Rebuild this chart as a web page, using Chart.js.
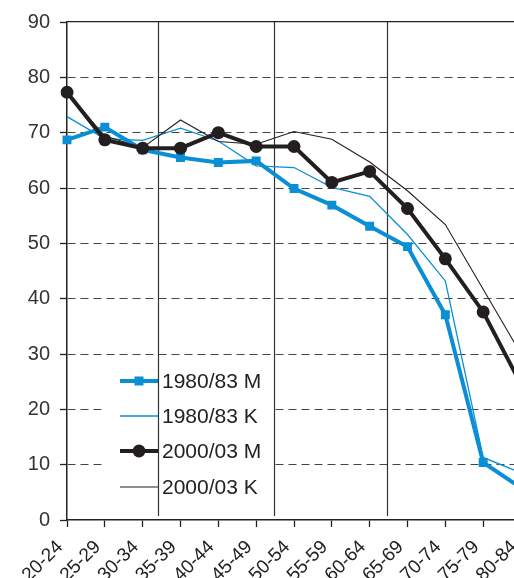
<!DOCTYPE html>
<html>
<head>
<meta charset="utf-8">
<script src="https://cdn.jsdelivr.net/npm/chart.js@4.4.1/dist/chart.umd.min.js"></script>
<style>
  html, body { margin: 0; padding: 0; background: #fff; overflow: hidden; }
  #wrap { position: absolute; left: 0; top: 0; width: 560px; height: 578px; }
</style>
</head>
<body>
<div id="wrap"><canvas id="myChart" width="560" height="578"></canvas></div>
<script>
// age groups (last one runs off the right edge like in the scan)
var ikagrupp = ['20-24', '25-29', '30-34', '35-39', '40-44', '45-49', '50-54',
                '55-59', '60-64', '65-69', '70-74', '75-79', '80-84'];

var m1980 = [68.7, 71.0, 66.9, 65.5, 64.6, 64.9, 59.9, 56.9, 53.1, 49.4, 37.1, 10.4, 5.8];
var k1980 = [72.9, 68.9, 68.6, 70.8, 68.5, 64.0, 63.7, 60.1, 58.5, 51.6, 43.2, 11.3, 8.5];
var m2000 = [77.3, 68.7, 67.2, 67.2, 70.0, 67.5, 67.5, 61.0, 63.0, 56.3, 47.2, 37.6, 24.5];
var k2000 = [77.0, 69.4, 67.3, 72.3, 68.4, 67.9, 70.2, 68.8, 64.7, 59.5, 53.4, 41.7, 30.0];

var yTicks = [0, 10, 20, 30, 40, 50, 60, 70, 80, 90];

// vertical separator lines, in category units
var separators = [2.41, 5.47, 8.46];

var BLUE = '#0a8fd6';
var BLACK = '#231f20';
var FONT = 'Liberation Sans, Arial, sans-serif';

// legend inside plot + separator lines
var overlay = {
    id: 'overlay',
    beforeDatasetsDraw: function (chart) {
        var ctx = chart.ctx;
        var x = chart.scales.x;
        var area = chart.chartArea;
        ctx.save();
        // legend
        ctx.fillStyle = '#fff';
        ctx.fillRect(106, 362, 166, 140);
        var rows = [381, 416, 451, 487];
        chart.data.datasets.forEach(function (ds, i) {
            var y = rows[i];
            ctx.strokeStyle = ds.borderColor;
            ctx.lineWidth = ds.borderWidth;
            ctx.beginPath();
            ctx.moveTo(120, y);
            ctx.lineTo(158, y);
            ctx.stroke();
            if (ds.pointRadius > 0) {
                ctx.fillStyle = ds.backgroundColor;
                if (ds.pointStyle === 'rect') {
                    ctx.fillRect(139 - 4.5, y - 4.5, 9, 9);
                } else {
                    ctx.beginPath();
                    ctx.arc(139, y, ds.pointRadius, 0, Math.PI * 2);
                    ctx.fill();
                }
            }
            ctx.fillStyle = '#222';
            ctx.font = '21px ' + FONT;
            ctx.textBaseline = 'middle';
            ctx.textAlign = 'left';
            ctx.fillText(ds.label, 162, y + 1);
        });
        // separators
        ctx.strokeStyle = '#333';
        ctx.lineWidth = 1.2;
        separators.forEach(function (v) {
            var px = Math.round(x.getPixelForValue(v)) + 0.5;
            ctx.beginPath();
            ctx.moveTo(px, area.top);
            ctx.lineTo(px, area.bottom - 4);
            ctx.stroke();
        });
        ctx.restore();
    }
};

var ctx1 = document.getElementById('myChart').getContext('2d');
var myChart = new Chart(ctx1, {
    type: 'line',
    data: {
        labels: ikagrupp,
        datasets: [{
            label: '1980/83 M',
            data: m1980,
            borderColor: BLUE,
            backgroundColor: BLUE,
            borderWidth: 4,
            pointStyle: 'rect',
            pointRadius: 6.3,
            pointBorderWidth: 0,
            order: 1,
            fill: false
        }, {
            label: '1980/83 K',
            data: k1980,
            borderColor: BLUE,
            backgroundColor: BLUE,
            borderWidth: 1.3,
            pointRadius: 0,
            order: 3,
            fill: false
        }, {
            label: '2000/03 M',
            data: m2000,
            borderColor: BLACK,
            backgroundColor: BLACK,
            borderWidth: 4,
            pointStyle: 'circle',
            pointRadius: 6.5,
            pointBorderWidth: 0,
            order: 0,
            fill: false
        }, {
            label: '2000/03 K',
            data: k2000,
            borderColor: BLACK,
            backgroundColor: BLACK,
            borderWidth: 1.1,
            pointRadius: 0,
            order: 2,
            fill: false
        }]
    },
    options: {
        responsive: false,
        animation: false,
        layout: { padding: { top: 22, left: 0, right: 39, bottom: 0 } },
        plugins: { legend: { display: false }, tooltip: { enabled: false } },
        elements: { line: { tension: 0 } },
        scales: {
            x: {
                type: 'category',
                offset: false,
                grid: {
                    drawOnChartArea: false,
                    drawTicks: true,
                    tickLength: 7,
                    tickColor: '#222',
                    tickWidth: 1.3
                },
                border: { display: true, color: '#222', width: 1.5 },
                ticks: {
                    minRotation: 45,
                    maxRotation: 45,
                    autoSkip: false,
                    padding: 9,
                    labelOffset: -7,
                    color: '#222',
                    font: { family: FONT, size: 19 }
                },
                afterFit: function (s) { s.height = 58; }
            },
            x2: {
                type: 'category',
                position: 'top',
                offset: false,
                grid: { display: false, drawTicks: false },
                border: { display: true, color: '#222', width: 1.3 },
                ticks: { display: false },
                afterFit: function (s) { s.height = 0; }
            },
            y: {
                min: 0,
                max: 90,
                afterBuildTicks: function (s) {
                    s.ticks = yTicks.map(function (v) { return { value: v }; });
                },
                grid: {
                    color: function (c) {
                        return (c.tick && (c.tick.value === 0 || c.tick.value === 90)) ? 'rgba(0,0,0,0)' : '#444';
                    },
                    lineWidth: 1,
                    drawTicks: true,
                    tickLength: 7,
                    tickColor: '#222',
                    tickWidth: 1.3
                },
                border: { display: true, color: '#222', width: 1.5, dash: [8, 5] },
                ticks: {
                    padding: 10,
                    color: '#333',
                    font: { family: FONT, size: 20 }
                },
                afterFit: function (s) { s.width = 67; }
            }
        }
    },
    plugins: [overlay]
});
</script>
</body>
</html>
